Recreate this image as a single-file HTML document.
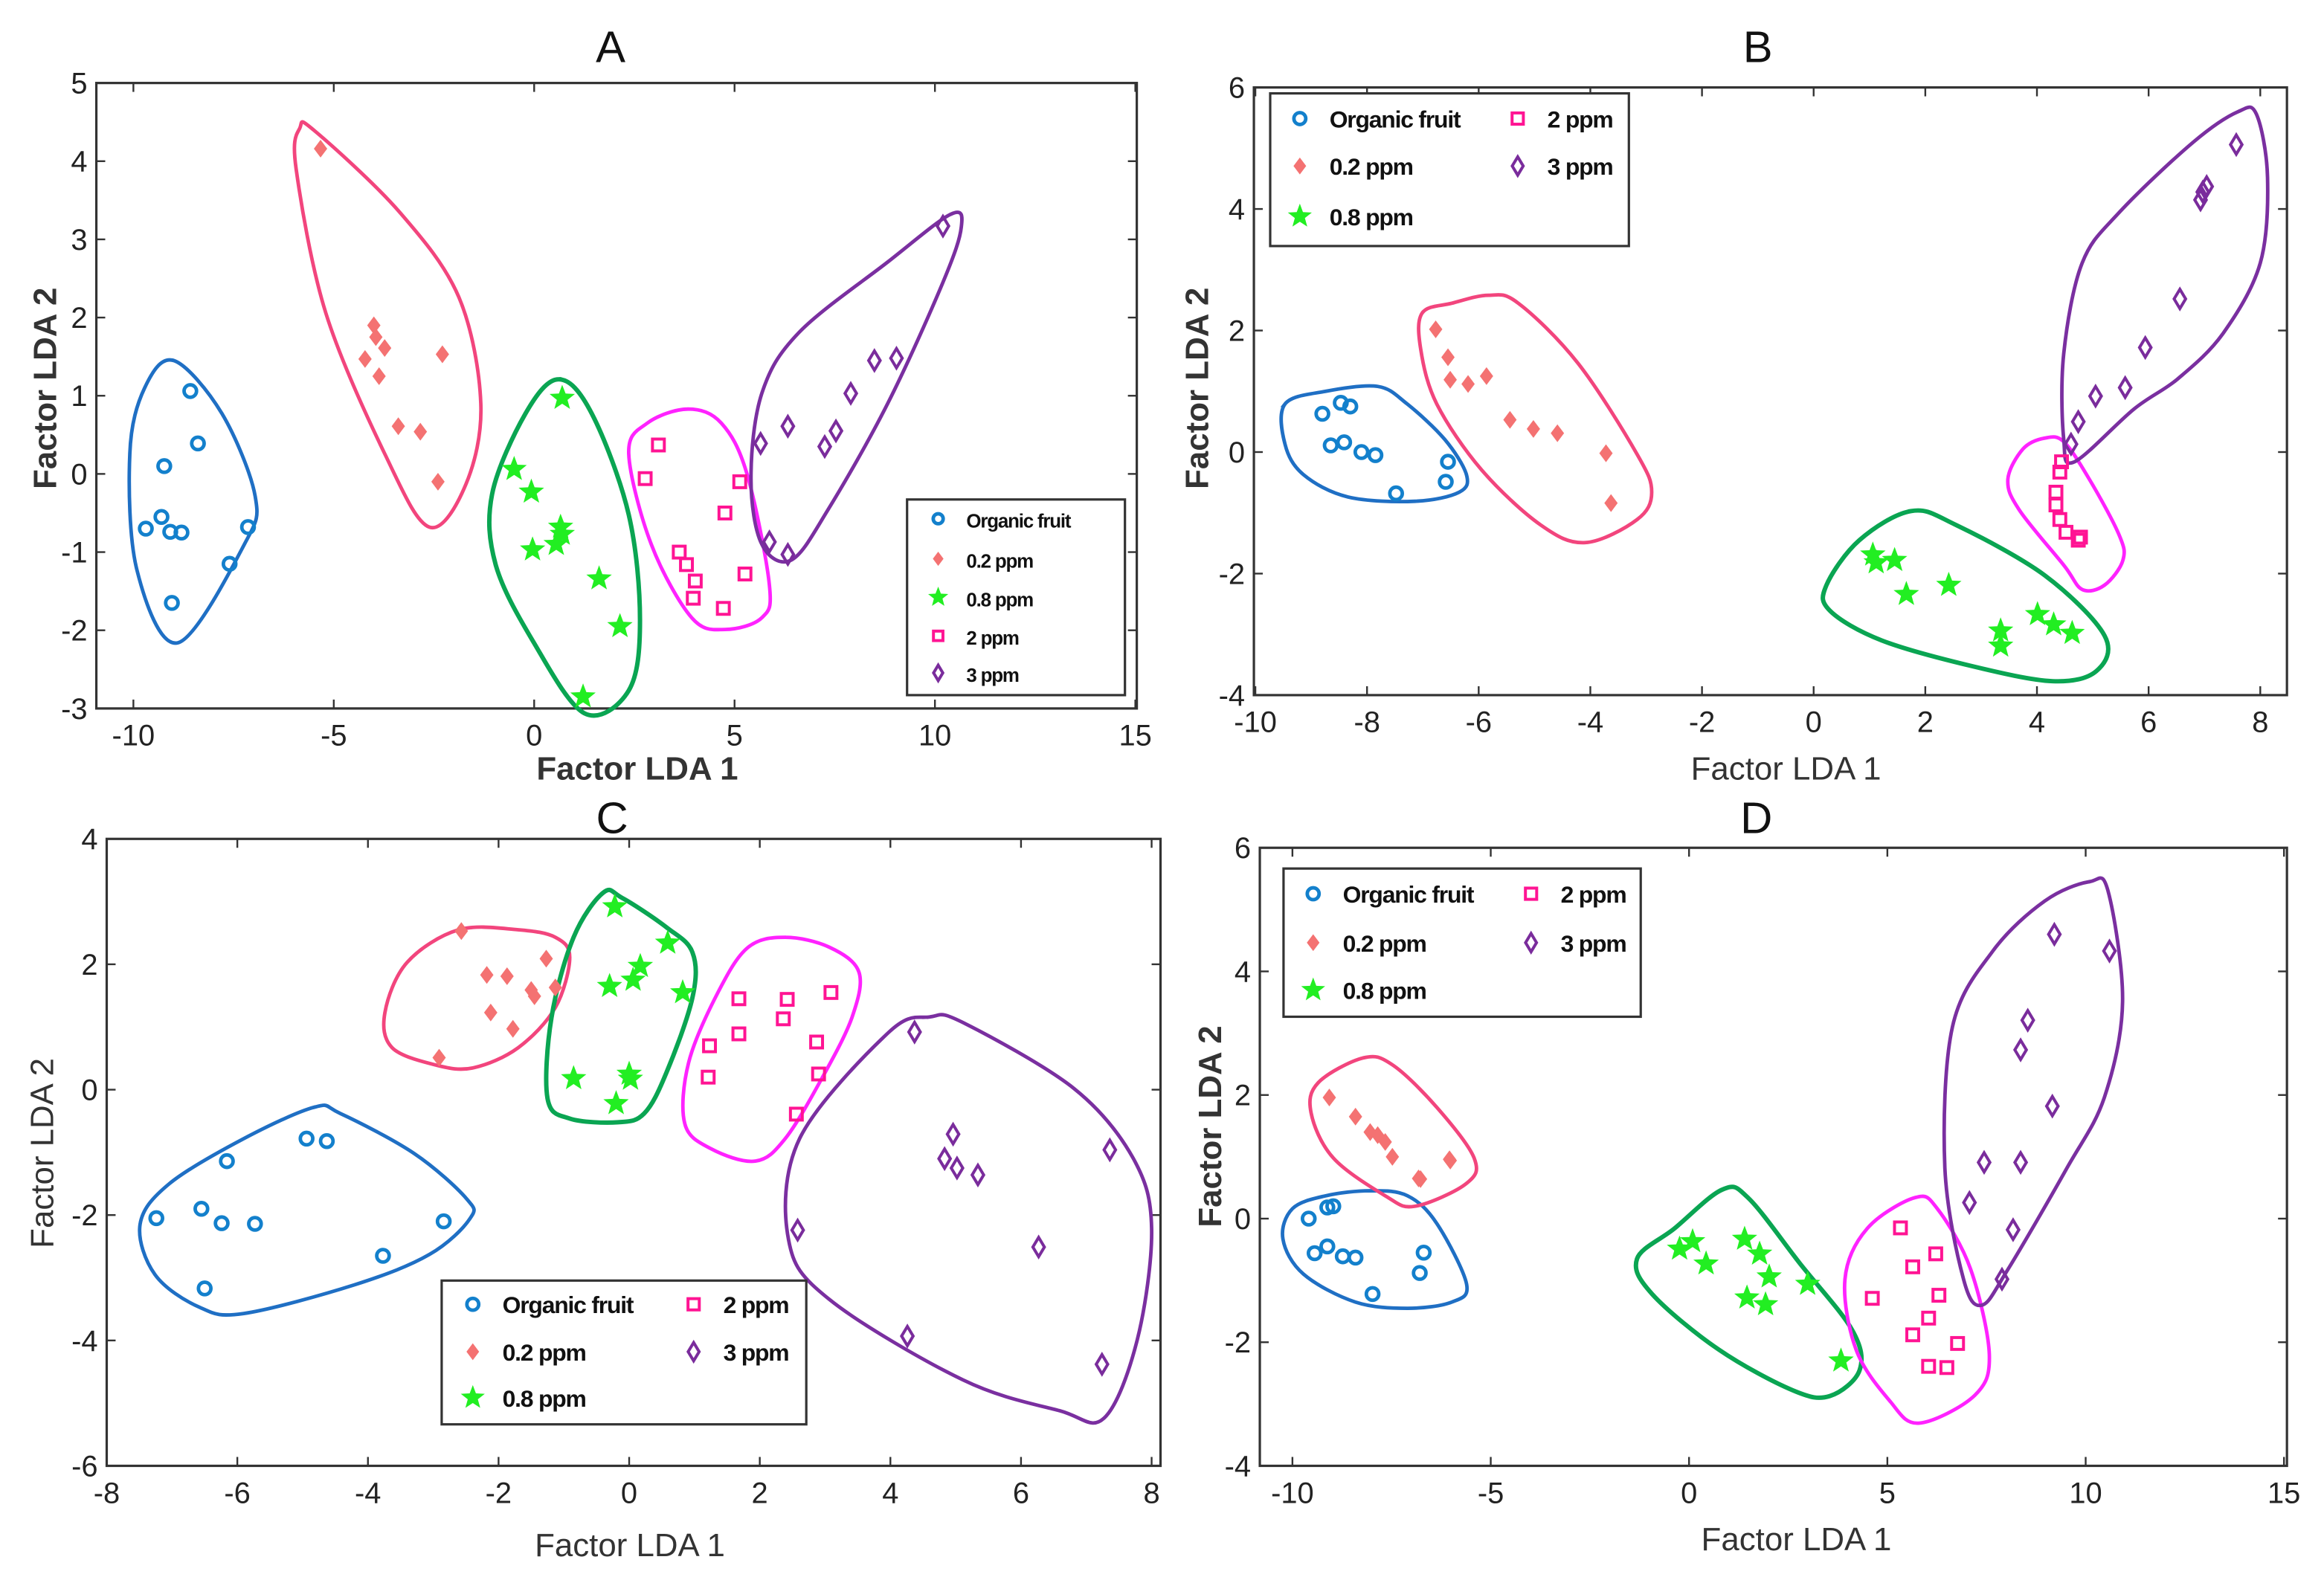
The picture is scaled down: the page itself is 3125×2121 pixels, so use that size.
<!DOCTYPE html>
<html><head><meta charset="utf-8"><style>
html,body{margin:0;padding:0;background:#fff;}
svg{display:block;}
text{font-family:"Liberation Sans",sans-serif;}
</style></head><body>
<svg id="fig" width="3125" height="2121" viewBox="0 0 1568 1064" preserveAspectRatio="none" xmlns="http://www.w3.org/2000/svg">
<rect x="0" y="0" width="1568" height="1064" fill="#fff"/>
</svg>
<script>
// ---- Panel A data ----
const A_organic=[[-8.58,1.06],[-8.39,0.39],[-9.23,0.10],[-9.30,-0.55],[-9.69,-0.70],[-9.08,-0.74],[-8.80,-0.75],[-7.14,-0.68],[-7.60,-1.15],[-9.04,-1.65]];
const A_p02=[[-5.33,4.16],[-4.0,1.90],[-3.95,1.75],[-3.73,1.61],[-4.22,1.47],[-3.87,1.25],[-3.39,0.61],[-2.84,0.54],[-2.29,1.53],[-2.40,-0.10]];
const A_p08=[[0.70,0.97],[-0.50,0.06],[-0.07,-0.23],[0.66,-0.68],[0.70,-0.77],[-0.04,-0.97],[0.55,-0.90],[1.62,-1.34],[2.14,-1.95],[1.22,-2.85]];
const A_p2=[[3.10,0.37],[2.77,-0.06],[5.13,-0.10],[4.76,-0.50],[3.62,-1.00],[3.80,-1.16],[4.02,-1.37],[3.97,-1.59],[4.72,-1.72],[5.26,-1.28]];
const A_p3=[[5.65,0.39],[6.33,0.61],[7.25,0.35],[7.53,0.55],[7.90,1.03],[8.49,1.45],[9.04,1.48],[10.20,3.17],[5.87,-0.87],[6.33,-1.03]];
const A_hullOrganic=[[-8.99,1.45],[-7.79,0.77],[-6.96,-0.29],[-7.23,-0.90],[-8.89,-2.16],[-9.91,-1.23],[-10.09,0.26],[-9.72,1.10]];
const A_hullP02=[[-5.85,4.42],[-5.48,4.39],[-3.36,3.35],[-1.88,2.26],[-1.33,0.90],[-1.70,-0.13],[-2.62,-0.68],[-3.73,0.26],[-5.20,2.06],[-5.94,3.90]];
const A_hullP08=[[0.61,1.21],[1.44,0.77],[2.36,-0.52],[2.64,-1.87],[2.36,-2.77],[1.25,-3.06],[-0.04,-2.13],[-0.96,-1.16],[-1.05,-0.26],[-0.22,0.77]];
const A_hullP2=[[3.84,0.83],[4.67,0.65],[5.31,0.0],[5.87,-1.42],[5.68,-1.84],[4.76,-1.99],[3.93,-1.84],[2.92,-0.90],[2.36,0.26],[2.82,0.65]];
const A_hullP3=[[10.39,3.32],[10.66,3.16],[10.20,2.45],[8.82,0.90],[7.34,-0.45],[6.42,-1.10],[5.68,-0.90],[5.41,-0.06],[5.68,1.03],[6.61,1.81],[8.82,2.71]];
const A_xticks=[-10,-5,0,5,10,15];
const A_yticks=[-3,-2,-1,0,1,2,3,4,5];
// ---- Panel B data ----
const B_organic=[[-8.80,0.63],[-8.47,0.81],[-8.30,0.75],[-8.65,0.11],[-8.41,0.16],[-8.10,0.0],[-7.85,-0.05],[-6.55,-0.16],[-6.59,-0.49],[-7.48,-0.68]];
const B_p02=[[-6.77,2.02],[-6.55,1.56],[-6.51,1.19],[-6.19,1.12],[-5.86,1.25],[-5.44,0.53],[-5.02,0.38],[-4.59,0.31],[-3.72,-0.02],[-3.63,-0.84]];
const B_p08=[[1.06,-1.69],[1.12,-1.82],[1.45,-1.78],[1.66,-2.34],[2.42,-2.19],[3.35,-2.94],[3.35,-3.19],[4.01,-2.67],[4.30,-2.84],[4.63,-2.98]];
const B_p2=[[4.44,-0.16],[4.41,-0.33],[4.34,-0.66],[4.34,-0.87],[4.41,-1.11],[4.52,-1.32],[4.74,-1.45],[4.78,-1.40]];
const B_p3=[[4.61,0.13],[4.74,0.50],[5.05,0.92],[5.58,1.06],[5.94,1.72],[6.56,2.52],[6.93,4.15],[7.04,4.37],[6.97,4.28],[7.57,5.06]];
const B_hullOrganic=[[-9.47,0.79],[-8.74,1.0],[-7.81,1.08],[-7.28,0.79],[-6.61,0.21],[-6.22,-0.37],[-6.35,-0.66],[-7.14,-0.81],[-8.34,-0.74],[-9.14,-0.37],[-9.47,0.13]];
const B_hullP02=[[-7.01,2.29],[-6.48,2.45],[-5.82,2.58],[-5.29,2.45],[-4.22,1.46],[-3.16,-0.04],[-2.90,-0.66],[-3.16,-1.11],[-4.09,-1.49],[-4.89,-1.20],[-5.95,-0.29],[-6.75,0.79],[-7.04,1.70]];
const B_hullP08=[[1.75,-0.97],[2.55,-1.20],[4.14,-2.03],[5.21,-3.02],[5.07,-3.60],[4.28,-3.77],[2.82,-3.52],[1.22,-3.10],[0.29,-2.61],[0.23,-2.19],[0.82,-1.45]];
const B_hullP2=[[4.14,0.23],[4.48,0.17],[4.94,-0.45],[5.47,-1.36],[5.54,-1.78],[5.21,-2.19],[4.81,-2.26],[4.48,-1.86],[3.68,-0.95],[3.48,-0.45],[3.75,0.05]];
const B_hullP3=[[7.60,5.60],[7.93,5.56],[8.13,4.52],[8.0,3.11],[7.33,1.95],[6.53,1.21],[5.74,0.71],[4.67,-0.16],[4.48,0.21],[4.48,1.62],[4.81,3.11],[5.47,3.94],[6.80,5.10]];
const B_xticks=[-10,-8,-6,-4,-2,0,2,4,6,8];
const B_yticks=[-4,-2,0,2,4,6];
// ---- Panel C data ----
const C_organic=[[-7.24,-2.05],[-6.55,-1.90],[-6.24,-2.13],[-5.73,-2.14],[-6.16,-1.14],[-4.94,-0.78],[-4.63,-0.82],[-3.77,-2.65],[-2.84,-2.10],[-6.50,-3.17]];
const C_p02=[[-2.57,2.53],[-2.18,1.83],[-1.87,1.81],[-1.27,2.09],[-1.50,1.59],[-1.45,1.49],[-1.13,1.63],[-2.12,1.23],[-1.78,0.97],[-2.91,0.51]];
const C_p08=[[-0.22,2.92],[0.59,2.34],[0.17,1.97],[0.06,1.75],[-0.30,1.65],[0.82,1.55],[-0.85,0.18],[0.0,0.25],[0.02,0.17],[-0.20,-0.22]];
const C_p2=[[1.68,1.45],[2.42,1.44],[3.09,1.55],[2.36,1.13],[1.68,0.89],[1.23,0.70],[2.87,0.76],[1.21,0.20],[2.90,0.25],[2.56,-0.39]];
const C_p3=[[4.37,0.92],[4.96,-0.71],[4.83,-1.10],[5.02,-1.25],[5.34,-1.36],[7.36,-0.96],[2.58,-2.24],[6.27,-2.51],[4.26,-3.93],[7.24,-4.38]];
const C_hullOrganic=[[-4.82,-0.28],[-4.42,-0.38],[-3.29,-1.02],[-2.49,-1.74],[-2.44,-2.06],[-3.06,-2.63],[-4.20,-3.11],[-5.90,-3.57],[-6.58,-3.47],[-7.26,-2.95],[-7.49,-2.15],[-7.04,-1.50],[-5.90,-0.78]];
const C_hullP02=[[-2.61,2.55],[-1.70,2.55],[-1.13,2.43],[-0.91,2.11],[-1.13,1.31],[-1.70,0.67],[-2.38,0.35],[-2.95,0.39],[-3.63,0.67],[-3.74,1.23],[-3.40,2.03]];
const C_hullP08=[[-0.40,3.14],[-0.11,3.06],[0.57,2.59],[0.97,2.19],[0.97,1.47],[0.57,0.27],[0.23,-0.38],[-0.17,-0.52],[-0.91,-0.46],[-1.25,-0.14],[-1.19,1.15],[-0.85,2.43]];
const C_hullP2=[[2.39,2.43],[3.07,2.27],[3.52,1.87],[3.41,1.15],[2.95,0.18],[2.39,-0.78],[1.93,-1.14],[1.25,-0.94],[0.85,-0.54],[0.91,0.43],[1.36,1.55],[1.82,2.27]];
const C_hullP3=[[4.60,1.16],[5.11,1.07],[6.81,0.02],[7.72,-1.10],[8.0,-2.22],[7.78,-3.99],[7.27,-5.24],[6.59,-5.12],[5.11,-4.63],[3.07,-3.35],[2.44,-2.39],[2.61,-0.78],[3.97,0.91]];
const C_xticks=[-8,-6,-4,-2,0,2,4,6,8];
const C_yticks=[-6,-4,-2,0,2,4];
// ---- Panel D data ----
const D_organic=[[-9.59,0.0],[-9.12,0.18],[-8.97,0.20],[-9.44,-0.56],[-9.12,-0.45],[-8.73,-0.61],[-8.41,-0.63],[-6.69,-0.55],[-6.79,-0.88],[-7.98,-1.22]];
const D_p02=[[-9.07,1.96],[-8.41,1.65],[-8.04,1.40],[-7.85,1.35],[-7.66,1.24],[-7.48,1.0],[-6.82,0.65],[-6.04,0.96],[-6.02,0.94],[-6.77,0.64]];
const D_p08=[[-0.24,-0.49],[0.09,-0.37],[0.43,-0.73],[1.40,-0.33],[1.78,-0.57],[2.02,-0.94],[1.46,-1.28],[1.93,-1.39],[2.99,-1.06],[3.83,-2.30]];
const D_p2=[[5.33,-0.15],[5.64,-0.78],[6.22,-0.57],[6.30,-1.24],[4.62,-1.29],[6.04,-1.61],[5.64,-1.88],[6.77,-2.02],[6.04,-2.39],[6.50,-2.41]];
const D_p3=[[9.21,4.60],[10.60,4.33],[8.54,3.21],[8.36,2.73],[9.16,1.82],[7.44,0.91],[8.36,0.91],[7.07,0.26],[8.17,-0.18],[7.89,-0.98]];
const D_hullOrganic=[[-8.04,0.45],[-7.10,0.37],[-6.36,-0.08],[-5.61,-1.06],[-5.98,-1.35],[-7.10,-1.45],[-8.41,-1.35],[-9.72,-0.90],[-10.24,-0.33],[-10.0,0.16],[-9.16,0.37]];
const D_hullP02=[[-8.22,2.60],[-7.48,2.49],[-6.36,1.80],[-5.42,0.98],[-5.61,0.57],[-6.92,0.20],[-7.66,0.37],[-8.97,0.98],[-9.53,1.71],[-9.35,2.20]];
const D_hullP08=[[0.84,0.47],[1.50,0.33],[2.80,-0.73],[4.11,-1.80],[4.30,-2.45],[3.55,-2.87],[2.62,-2.78],[0.75,-2.12],[-0.93,-1.22],[-1.31,-0.65],[-0.37,-0.16]];
const D_hullP2=[[5.70,0.34],[6.26,0.16],[7.10,-0.82],[7.57,-2.20],[7.20,-2.86],[5.79,-3.31],[5.05,-2.94],[4.21,-2.12],[3.93,-0.98],[4.49,-0.16]];
const D_hullP3=[[10.09,5.45],[10.56,5.31],[10.93,3.51],[10.47,1.96],[9.53,0.82],[8.04,-0.82],[7.38,-1.40],[6.92,-0.98],[6.45,0.82],[6.64,3.10],[7.66,4.33],[8.97,5.14]];
const D_xticks=[-10,-5,0,5,10,15];
const D_yticks=[-4,-2,0,2,4,6];
const legendLabels=["Organic fruit","0.2 ppm","0.8 ppm","2 ppm","3 ppm"];

const NS="http://www.w3.org/2000/svg";
const svg=document.getElementById('fig');
function mk(tag,attrs,parent){const e=document.createElementNS(NS,tag);for(const k in attrs)e.setAttribute(k,attrs[k]);(parent||svg).appendChild(e);return e;}
const HULL=["#1f6fc4","#f2457d","#0aa552","#ff22ff","#7a2fa0"];
const MK=["#1380cc","#f47272","#22ee22","#ff1493","#7a2c9c"];

function marker(g,type,cx,cy,s){
  s=s||1;let e;
  if(type===0){e=mk('circle',{cx:cx,cy:cy,r:4.2*s,fill:'none',stroke:MK[0],'stroke-width':2.4},g);}
  else if(type===1){const r=6*s;e=mk('polygon',{points:`${cx},${cy-r} ${cx+r*0.75},${cy} ${cx},${cy+r} ${cx-r*0.75},${cy}`,fill:MK[1]},g);}
  else if(type===2){const R=9*s,r=3.8*s;let p=[];for(let i=0;i<10;i++){const a=-Math.PI/2+i*Math.PI/5;const rr=i%2?r:R;p.push((cx+rr*Math.cos(a)).toFixed(1)+','+(cy+rr*Math.sin(a)).toFixed(1));}
    e=mk('polygon',{points:p.join(' '),fill:MK[2]},g);}
  else if(type===3){const h=4*s;e=mk('rect',{x:cx-h,y:cy-h,width:2*h,height:2*h,fill:'none',stroke:MK[3],'stroke-width':2},g);}
  else {const r=6.5*s;e=mk('polygon',{points:`${cx},${cy-r} ${cx+r*0.6},${cy} ${cx},${cy+r} ${cx-r*0.6},${cy}`,fill:'none',stroke:MK[4],'stroke-width':2},g);}
  return e;
}
function smoothPath(pts){
  const n=pts.length;let d=`M${pts[0][0]},${pts[0][1]}`;
  for(let i=0;i<n;i++){const p0=pts[(i-1+n)%n],p1=pts[i],p2=pts[(i+1)%n],p3=pts[(i+2)%n];
    const c1=[p1[0]+(p2[0]-p0[0])/6,p1[1]+(p2[1]-p0[1])/6],c2=[p2[0]-(p3[0]-p1[0])/6,p2[1]-(p3[1]-p1[1])/6];
    d+=` C${c1[0].toFixed(1)},${c1[1].toFixed(1)} ${c2[0].toFixed(1)},${c2[1].toFixed(1)} ${p2[0].toFixed(1)},${p2[1].toFixed(1)}`;}
  return d+'Z';
}
function panel(cfg){
  const g=mk('g',{});
  
  
  const X=v=>cfg.px0+(v-cfg.x0)*(cfg.px1-cfg.px0)/(cfg.x1-cfg.x0);
  const Y=v=>cfg.py0+(v-cfg.y0)*(cfg.py1-cfg.py0)/(cfg.y1-cfg.y0);
  const t=mk('text',{x:cfg.titleX,y:cfg.titleY,'font-size':30,'text-anchor':'middle',fill:'#111'},g);t.textContent=cfg.id;
  
  
  const L=cfg.box[0],T=cfg.box[1],R=cfg.box[2],B=cfg.box[3];
  cfg.xt.forEach(v=>{const x=X(v);
    mk('line',{x1:x,y1:B,x2:x,y2:B-6,stroke:'#333','stroke-width':1.2},g);
    mk('line',{x1:x,y1:T,x2:x,y2:T+6,stroke:'#333','stroke-width':1.2},g);
    const tx=mk('text',{x:x,y:B+25,'font-size':20,'text-anchor':'middle',fill:'#222'},g);tx.textContent=v;
    
    });
  cfg.yt.forEach(v=>{const y=Y(v);
    mk('line',{x1:L,y1:y,x2:L+6,y2:y,stroke:'#333','stroke-width':1.2},g);
    mk('line',{x1:R,y1:y,x2:R-6,y2:y,stroke:'#333','stroke-width':1.2},g);
    const ty=mk('text',{x:L-6,y:y+7,'font-size':20,'text-anchor':'end',fill:'#222'},g);ty.textContent=v;
    
    });
  const box=mk('rect',{x:L,y:T,width:R-L,height:B-T,fill:'none',stroke:'#333','stroke-width':1.6},g);
  
  
  const xl=mk('text',{x:cfg.xlab[0],y:cfg.xlab[1],'font-size':22,'text-anchor':'middle',fill:'#333','font-weight':cfg.xbold?'bold':'normal'},g);xl.textContent='Factor LDA 1';
  
  
  const yl=mk('text',{x:0,y:0,'font-size':22,'text-anchor':'middle',fill:'#333','font-weight':cfg.ybold?'bold':'normal',transform:`translate(${cfg.ylab[0]},${cfg.ylab[1]}) rotate(-90)`},g);yl.textContent='Factor LDA 2';
  
  
  const names=['organic-fruit','ppm-0-2','ppm-0-8','ppm-2','ppm-3'];
  cfg.hulls.forEach((h,i)=>{const p=mk('path',{d:smoothPath(h.map(q=>[X(q[0]),Y(q[1])])),fill:'none',stroke:HULL[i],'stroke-width':i===2?3:2.4},g);
    
    });
  cfg.series.forEach((s,i)=>s.forEach(q=>{const m=marker(g,i,X(q[0]),Y(q[1]));
    
    }));
  const lg=cfg.legend;
  const lgg=mk('g',{},g);
  
  
  mk('rect',{x:lg.box[0],y:lg.box[1],width:lg.box[2]-lg.box[0],height:lg.box[3]-lg.box[1],fill:'#fff',stroke:'#333','stroke-width':1.6},lgg);
  lg.pos.forEach((p,i)=>{const ent=mk('g',{},lgg);
    
    
    marker(ent,i,p[0],p[1],lg.s);
    const tx=mk('text',{x:p[0]+lg.dx,y:p[1]+6,'font-size':lg.fs,'font-weight':'bold',fill:'#111','letter-spacing':'-0.6'},ent);tx.textContent=legendLabels[i];});
}
panel({id:'A',titleX:412,titleY:42,x0:-10,x1:15,px0:90,px1:766,y0:-3,y1:5,py0:478,py1:56,box:[65,56,767,478],
  xt:A_xticks,yt:A_yticks,xlab:[430,526],xbold:true,ylab:[38,262],ybold:true,
  hulls:[A_hullOrganic,A_hullP02,A_hullP08,A_hullP2,A_hullP3],series:[A_organic,A_p02,A_p08,A_p2,A_p3],
  legend:{box:[612,337,759,469],pos:[[633,350],[633,377],[633,403],[633,429],[633,454]],dx:19,fs:13,s:0.8}});
panel({id:'B',titleX:1186,titleY:42,x0:-10,x1:8,px0:847,px1:1525,y0:-4,y1:6,py0:469,py1:59,box:[846,59,1543,469],
  xt:B_xticks,yt:B_yticks,xlab:[1205,526],xbold:false,ylab:[815,262],ybold:true,
  hulls:[B_hullOrganic,B_hullP02,B_hullP08,B_hullP2,B_hullP3],series:[B_organic,B_p02,B_p08,B_p2,B_p3],
  legend:{box:[857,63,1099,166],pos:[[877,80],[877,112],[877,146],[1024,80],[1024,112]],dx:20,fs:16,s:0.95}});
panel({id:'C',titleX:413,titleY:562,x0:-8,x1:8,px0:72,px1:777,y0:-6,y1:4,py0:989,py1:566,box:[72,566,783,989],
  xt:C_xticks,yt:C_yticks,xlab:[425,1050],xbold:false,ylab:[36,778],ybold:false,
  hulls:[C_hullOrganic,C_hullP02,C_hullP08,C_hullP2,C_hullP3],series:[C_organic,C_p02,C_p08,C_p2,C_p3],
  legend:{box:[298,864,544,961],pos:[[319,880],[319,912],[319,943],[468,880],[468,912]],dx:20,fs:16,s:0.95}});
panel({id:'D',titleX:1185,titleY:562,x0:-10,x1:15,px0:872,px1:1541,y0:-4,y1:6,py0:989,py1:572,box:[850,572,1543,989],
  xt:D_xticks,yt:D_yticks,xlab:[1212,1046],xbold:false,ylab:[824,760],ybold:true,
  hulls:[D_hullOrganic,D_hullP02,D_hullP08,D_hullP2,D_hullP3],series:[D_organic,D_p02,D_p08,D_p2,D_p3],
  legend:{box:[866,586,1107,686],pos:[[886,603],[886,636],[886,668],[1033,603],[1033,636]],dx:20,fs:16,s:0.95}});
</script>
</body></html>
